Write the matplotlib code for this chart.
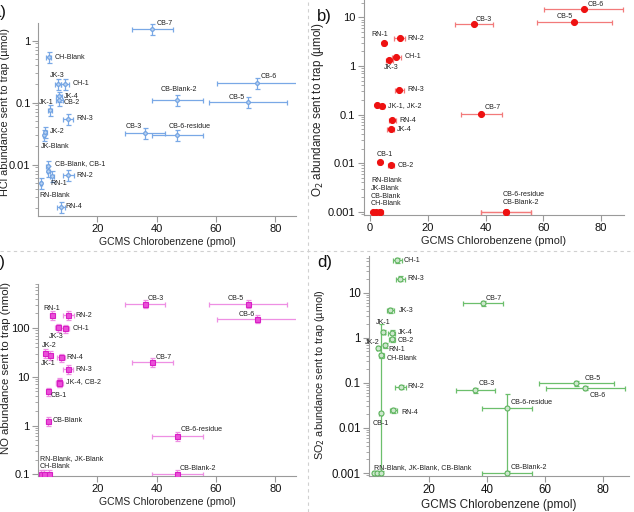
import numpy as np
import matplotlib
matplotlib.use("Agg")
import matplotlib.pyplot as plt
from matplotlib.ticker import LogLocator, FuncFormatter, NullFormatter, FixedLocator
from matplotlib.lines import Line2D

plt.rcParams['font.family'] = ['Liberation Sans', 'DejaVu Sans']

# ---------------- data ----------------
samples = ["RN-Blank", "RN-1", "RN-2", "RN-3", "RN-4",
           "JK-Blank", "JK-1", "JK-2", "JK-3", "JK-4",
           "CH-Blank", "CH-1",
           "CB-Blank", "CB-1", "CB-2", "CB-3", "CB-5", "CB-6", "CB-7",
           "CB-6-residue", "CB-Blank-2"]
chlorobenzene_pmol = [1.0, 4.7, 10.2, 10.1, 7.7,
                      2.1, 4.1, 2.5, 6.7, 7.1,
                      3.6, 9.1,
                      3.3, 3.4, 7.2, 36.0, 70.8, 74.0, 38.6,
                      47.0, 47.0]
chlorobenzene_err = [0.4, 0.6, 1.8, 1.6, 1.3,
                     0.4, 0.6, 0.6, 1.1, 1.1,
                     0.9, 1.5,
                     0.5, 0.5, 1.1, 6.7, 13.0, 13.7, 7.0,
                     8.7, 8.7]
hcl_umol = [0.005, 0.0065, 0.0068, 0.055, 0.0021,
            0.030, 0.075, 0.034, 0.20, 0.126,
            0.54, 0.20,
            0.0095, 0.0080, 0.109, 0.0325, 0.102, 0.21, 1.54,
            0.030, 0.109]
o2_umol = [0.001, 3.0, 3.7, 0.32, 0.077,
           0.001, 0.15, 0.155, 1.32, 0.050,
           0.001, 1.55,
           0.001, 0.0107, 0.0091, 7.2, 8.1, 14.8, 0.104,
           0.001, 0.001]
no_nmol = [0.1, 185, 185, 14.3, 25,
           0.1, 28, 31, 103, 7.8,
           0.1, 98,
           1.24, 5.0, 7.6, 315, 315, 155, 20,
           0.61, 0.1]
so2_umol = [0.001, 0.68, 0.082, 20.5, 0.0245,
            0.001, 1.35, 0.60, 4.1, 1.3,
            0.41, 52,
            0.001, 0.021, 0.93, 0.069, 0.098, 0.078, 5.8,
            0.028, 0.001]
hcl_rel_err = 0.20
o2_rel_err = 0.04
no_rel_err = 0.20
so2_rel_err = 0.12
# SO2 points whose error bars reach from the axis floor up to this value
so2_wide_upper = {"CB-1": 2.0, "CB-6-residue": 0.058}

x = np.array(chlorobenzene_pmol)
xe = np.array(chlorobenzene_err)
idx = {s: i for i, s in enumerate(samples)}

fig = plt.figure(figsize=(6.34, 5.12), dpi=100)

def style_axes(ax, xlim, ylim, xticks, ylabel, xl_size, yl_size, ylab_xy,
               tick_size=8, ypad=2):
    ax.set_yscale('log')
    ax.set_xlim(*xlim)
    ax.set_ylim(*ylim)
    ax.xaxis.set_major_locator(FixedLocator(xticks))
    ax.yaxis.set_major_locator(LogLocator(base=10, numticks=20))
    ax.yaxis.set_minor_locator(LogLocator(base=10, subs=np.arange(2, 10), numticks=50))
    ax.yaxis.set_major_formatter(FuncFormatter(lambda v, p: f"{v:g}"))
    ax.yaxis.set_minor_formatter(NullFormatter())
    for s in ['top', 'right']:
        ax.spines[s].set_visible(False)
    for s in ['left', 'bottom']:
        ax.spines[s].set_color('#9a9a9a')
        ax.spines[s].set_linewidth(0.8)
    ax.tick_params(which='major', direction='out', length=4, width=0.8,
                   color='#9a9a9a', labelsize=tick_size, pad=2, labelcolor='#111111')
    ax.tick_params(axis='y', which='major', pad=ypad)
    ax.tick_params(which='minor', direction='out', length=2, width=0.6, color='#9a9a9a')
    ax.set_xlabel("GCMS Chlorobenzene (pmol)", fontsize=xl_size, labelpad=2, color='#222222')
    ax.set_ylabel(ylabel, fontsize=yl_size, color='#222222')
    ax.yaxis.set_label_coords(*ylab_xy)

def plot_panel(ax, y, ylo, yhi, mk, ms, mfc, mec, ecol):
    y = np.array(y, dtype=float)
    ax.errorbar(x, y, xerr=xe, yerr=[ylo, yhi], fmt='none', ecolor=ecol,
                elinewidth=0.9, capsize=1.8, capthick=0.9, zorder=2)
    ax.plot(x, y, linestyle='none', marker=mk, ms=ms, mfc=mfc, mec=mec,
            mew=0.8, zorder=3)

ax_y = {}

def label(ax, name, text, dx, dy, ha='left', va='center'):
    i = idx[name]
    ax.annotate(text, (x[i], ax_y[ax][i]), xytext=(dx, dy), textcoords='offset pixels',
                ha=ha, va=va, fontsize=5.1, color='#222222', zorder=5,
                annotation_clip=False)

# ---------------- panel a: HCl ----------------
axa = fig.add_axes([0.0599, 0.5787, 0.407, 0.377])
ya = np.array(hcl_umol)
ax_y[axa] = ya
plot_panel(axa, ya, ya * hcl_rel_err, ya * hcl_rel_err, 'o', 2.6, '#b9d3f3', '#6d9fe0', '#79a8e6')
style_axes(axa, (0, 87), (0.0015, 1.95), [20, 40, 60, 80],
           "HCl abundance sent to trap (\u00b5mol)", 7.45, 7.8, (-0.108, 0.537), ypad=1.3)
for args in [("CB-7", "CB-7", 4, 6), ("CH-Blank", "CH-Blank", 6, 0),
             ("JK-3", "JK-3", -1, 8, 'center'), ("CH-1", "CH-1", 8, 0),
             ("JK-4", "JK-4", 5, 0), ("CB-2", "CB-2", 4, -2),
             ("JK-1", "JK-1", -4, 8, 'center'), ("RN-3", "RN-3", 8, 0),
             ("JK-2", "JK-2", 4, 0), ("JK-Blank", "JK-Blank", -3, -11),
             ("CB-Blank", "CB-Blank, CB-1", 7, 2), ("RN-2", "RN-2", 8, 0),
             ("RN-1", "RN-1", -2, -7), ("RN-Blank", "RN-Blank", -1.5, -12),
             ("RN-4", "RN-4", 5, 0), ("CB-6", "CB-6", 3, 6),
             ("CB-Blank-2", "CB-Blank-2", 1, 11, 'center'),
             ("CB-5", "CB-5", -3, 5, 'right'), ("CB-3", "CB-3", -3, 6, 'right'),
             ("CB-6-residue", "CB-6-residue", -9, 9)]:
    label(axa, *args)

# ---------------- panel b: O2 ----------------
axb = fig.add_axes([0.5737, 0.5807, 0.4106, 0.4193])
yb = np.array(o2_umol)
ax_y[axb] = yb
plot_panel(axb, yb, yb * o2_rel_err, yb * o2_rel_err, 'o', 4.3, '#ee1111', '#ee1111', '#f27a7a')
style_axes(axb, (-2.2, 88), (0.00087, 22.7), [0, 20, 40, 60, 80],
           "O$_2$ abundance sent to trap (\u00b5mol)", 7.95, 8.4, (-0.146, 0.49))
for args in [("CB-6", "CB-6", 4, 5), ("CB-3", "CB-3", 2, 5), ("CB-5", "CB-5", -2, 5, 'right'),
             ("RN-1", "RN-1", -4, 8, 'center'), ("RN-2", "RN-2", 8, 0),
             ("CH-1", "CH-1", 8, 0), ("JK-3", "JK-3", 2, -7, 'center'),
             ("RN-3", "RN-3", 8, 0), ("JK-1", "JK-1, JK-2", 6, 0),
             ("RN-4", "RN-4", 7, 0), ("JK-4", "JK-4", 6, 0),
             ("CB-1", "CB-1", 5, 7, 'center'), ("CB-2", "CB-2", 7, 0),
             ("CB-7", "CB-7", 3, 6),
             ("RN-Blank", "RN-Blank", -2, 31.7), ("RN-Blank", "JK-Blank", -2, 23.4),
             ("RN-Blank", "CB-Blank", -2, 15.7), ("RN-Blank", "CH-Blank", -2, 8.4),
             ("CB-6-residue", "CB-6-residue", -3, 17.4),
             ("CB-6-residue", "CB-Blank-2", -3, 9)]:
    label(axb, *args)

# ---------------- panel c: NO ----------------
axc = fig.add_axes([0.0599, 0.0703, 0.407, 0.375])
yc = np.array(no_nmol, dtype=float)
ax_y[axc] = yc
plot_panel(axc, yc, yc * no_rel_err, yc * no_rel_err, 's', 3.6, '#ea4fd8', '#d81fc4', '#ee8fe3')
style_axes(axc, (0, 87), (0.092, 800), [20, 40, 60, 80],
           "NO abundance sent to trap (nmol)", 7.45, 8.2, (-0.106, 0.565))
for args in [("CB-3", "CB-3", 3, 5), ("CB-5", "CB-5", -4, 5, 'right'),
             ("CB-6", "CB-6", -3, 4, 'right'), ("RN-1", "RN-1", 0, 7, 'center'),
             ("RN-2", "RN-2", 7, 0), ("CH-1", "CH-1", 8, 0),
             ("JK-3", "JK-3", -2, -9, 'center'), ("JK-2", "JK-2", 4, 7, 'center'),
             ("JK-1", "JK-1", -2, -9, 'center'), ("RN-4", "RN-4", 6, 0),
             ("RN-3", "RN-3", 7, 0), ("JK-4", "JK-4, CB-2", 7, 0),
             ("CB-1", "CB-1", 3, -4), ("CB-Blank", "CB-Blank", 5, 0),
             ("CB-7", "CB-7", 3, 5), ("CB-6-residue", "CB-6-residue", 3, 6),
             ("CB-Blank-2", "CB-Blank-2", 2, 6),
             ("RN-Blank", "RN-Blank, JK-Blank", -1, 15.6),
             ("RN-Blank", "CH-Blank", -1, 7.6)]:
    label(axc, *args)

# ---------------- panel d: SO2 ----------------
axd = fig.add_axes([0.582, 0.0703, 0.410, 0.4297])
yd = np.array(so2_umol, dtype=float)
ax_y[axd] = yd
d_lo = yd * so2_rel_err
d_hi = yd * so2_rel_err
for name, top in so2_wide_upper.items():
    i = idx[name]
    d_lo[i] = yd[i] * 0.999
    d_hi[i] = top - yd[i]
plot_panel(axd, yd, d_lo, d_hi, 'o', 3.6, '#cde8cd', '#5fb35f', '#6cbf6c')
style_axes(axd, (-0.7, 89), (0.00086, 65), [20, 40, 60, 80],
           "SO$_2$ abundance sent to trap (\u00b5mol)", 8.5, 7.8, (-0.162, 0.461),
           tick_size=8.3)
for args in [("CH-1", "CH-1", 6, 0), ("RN-3", "RN-3", 7, 0), ("JK-3", "JK-3", 8, 0),
             ("JK-1", "JK-1", 0, 9, 'center'), ("JK-4", "JK-4", 6, 0),
             ("CB-2", "CB-2", 6, -1), ("JK-2", "JK-2", -6, 5, 'center'),
             ("RN-1", "RN-1", 4, -4), ("CH-Blank", "CH-Blank", 5, -3),
             ("RN-2", "RN-2", 7, 0), ("RN-4", "RN-4", 8, -2),
             ("CB-1", "CB-1", 0, -10, 'center'), ("CB-7", "CB-7", 3, 5),
             ("CB-3", "CB-3", 3, 7), ("CB-5", "CB-5", 8, 5), ("CB-6", "CB-6", 4, -8),
             ("CB-6-residue", "CB-6-residue", 3, 5), ("CB-Blank-2", "CB-Blank-2", 3, 6),
             ("RN-Blank", "RN-Blank, JK-Blank, CB-Blank", 0, 6)]:
    label(axd, *args)

# ---------------- panel letters & separators ----------------
W, H = 634, 512
for t, px, py in [("a)", -9, 13), ("b)", 317, 16), ("c)", -9, 263), ("d)", 317, 263)]:
    fig.text(px / W, 1 - py / H, t, fontsize=12, ha='left', va='center', color='#111111')
fig.add_artist(Line2D([308 / W, 308 / W], [0, 1], transform=fig.transFigure,
                      color='#d0d0d0', lw=0.8, ls=(0, (3, 3))))
fig.add_artist(Line2D([0, 1], [1 - 251 / H, 1 - 251 / H], transform=fig.transFigure,
                      color='#d0d0d0', lw=0.8, ls=(0, (3, 3))))

fig.savefig("out.png", dpi=100)
